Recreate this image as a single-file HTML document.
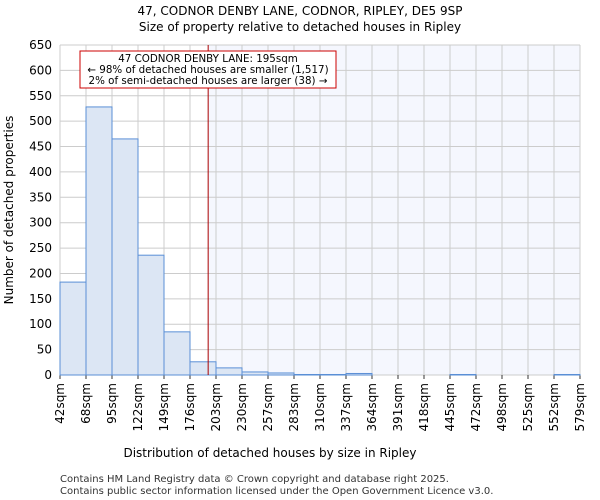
<!DOCTYPE html>
<html><head><meta charset="utf-8"><style>body{margin:0;background:#fff}svg{display:block;font-family:"DejaVu Sans","Liberation Sans",sans-serif}</style></head>
<body>
<svg id="c" width="600" height="500">
<text x="300" y="15" text-anchor="middle" font-size="12">47, CODNOR DENBY LANE, CODNOR, RIPLEY, DE5 9SP</text>
<text x="300" y="31" text-anchor="middle" font-size="12">Size of property relative to detached houses in Ripley</text>
<g id="plot"></g>
<text x="270" y="457" text-anchor="middle" font-size="12">Distribution of detached houses by size in Ripley</text>
<text transform="translate(13,210) rotate(-90)" text-anchor="middle" font-size="12">Number of detached properties</text>
<text x="60" y="482" font-size="10" fill="#333">Contains HM Land Registry data © Crown copyright and database right 2025.</text>
<text x="60" y="494" font-size="10" fill="#333">Contains public sector information licensed under the Open Government Licence v3.0.</text>
</svg>
<script>
const categories=["42sqm","68sqm","95sqm","122sqm","149sqm","176sqm","203sqm","230sqm","257sqm","283sqm","310sqm","337sqm","364sqm","391sqm","418sqm","445sqm","472sqm","498sqm","525sqm","552sqm","579sqm"];
const counts=[183,528,465,236,85,26,14,6,4,1,1,3,0,0,0,1,0,0,0,1];
const yTicks=[0,50,100,150,200,250,300,350,400,450,500,550,600,650];
const markerSize=195;
const ns="http://www.w3.org/2000/svg";
const L=60,R=580,T=45,B=375,yMax=650,xMin=42,xMax=579;
const nb=counts.length,bw=(R-L)/nb;
const y=v=>B-(v/yMax)*(B-T);
const xs=s=>L+(s-xMin)/(xMax-xMin)*(R-L);
const g=document.getElementById('plot');
function mk(t,a){const e=document.createElementNS(ns,t);for(const k in a)e.setAttribute(k,a[k]);g.appendChild(e);return e;}
const mx=xs(markerSize);
let e=mk('rect',{x:mx,y:T,width:R-mx,height:B-T,fill:'#f5f7fe'});


yTicks.forEach(t=>{let l=mk('line',{x1:L,x2:R,y1:y(t),y2:y(t),stroke:'#ccc'});


let tx=mk('text',{x:L-8,y:y(t)+4,'text-anchor':'end','font-size':12});tx.textContent=t;

});
categories.forEach((c,i)=>{const xx=L+i*bw;let l=mk('line',{x1:xx,x2:xx,y1:T,y2:B,stroke:'#ccc'});


let tk=mk('line',{x1:xx,x2:xx,y1:B,y2:B+4,stroke:'#333'});


let tx=mk('text',{transform:`translate(${xx+4},${B+8}) rotate(-90)`,'text-anchor':'end','font-size':12});tx.textContent=c;

});
counts.forEach((v,i)=>{let r=mk('rect',{x:L+i*bw,y:y(v),width:bw,height:B-y(v),fill:'#dce6f4',stroke:'#5a8fd6','stroke-width':1});

});
e=mk('line',{x1:mx,x2:mx,y1:T,y2:B,stroke:'#a00','stroke-width':1});


e=mk('rect',{x:80,y:51,width:256,height:37,fill:'#fff',stroke:'#c00'});


["47 CODNOR DENBY LANE: 195sqm","← 98% of detached houses are smaller (1,517)","2% of semi-detached houses are larger (38) →"].forEach((s,i)=>{let t=mk('text',{x:208,y:62+i*11,'text-anchor':'middle','font-size':10.3});t.textContent=s;

});
</script>
</body></html>
